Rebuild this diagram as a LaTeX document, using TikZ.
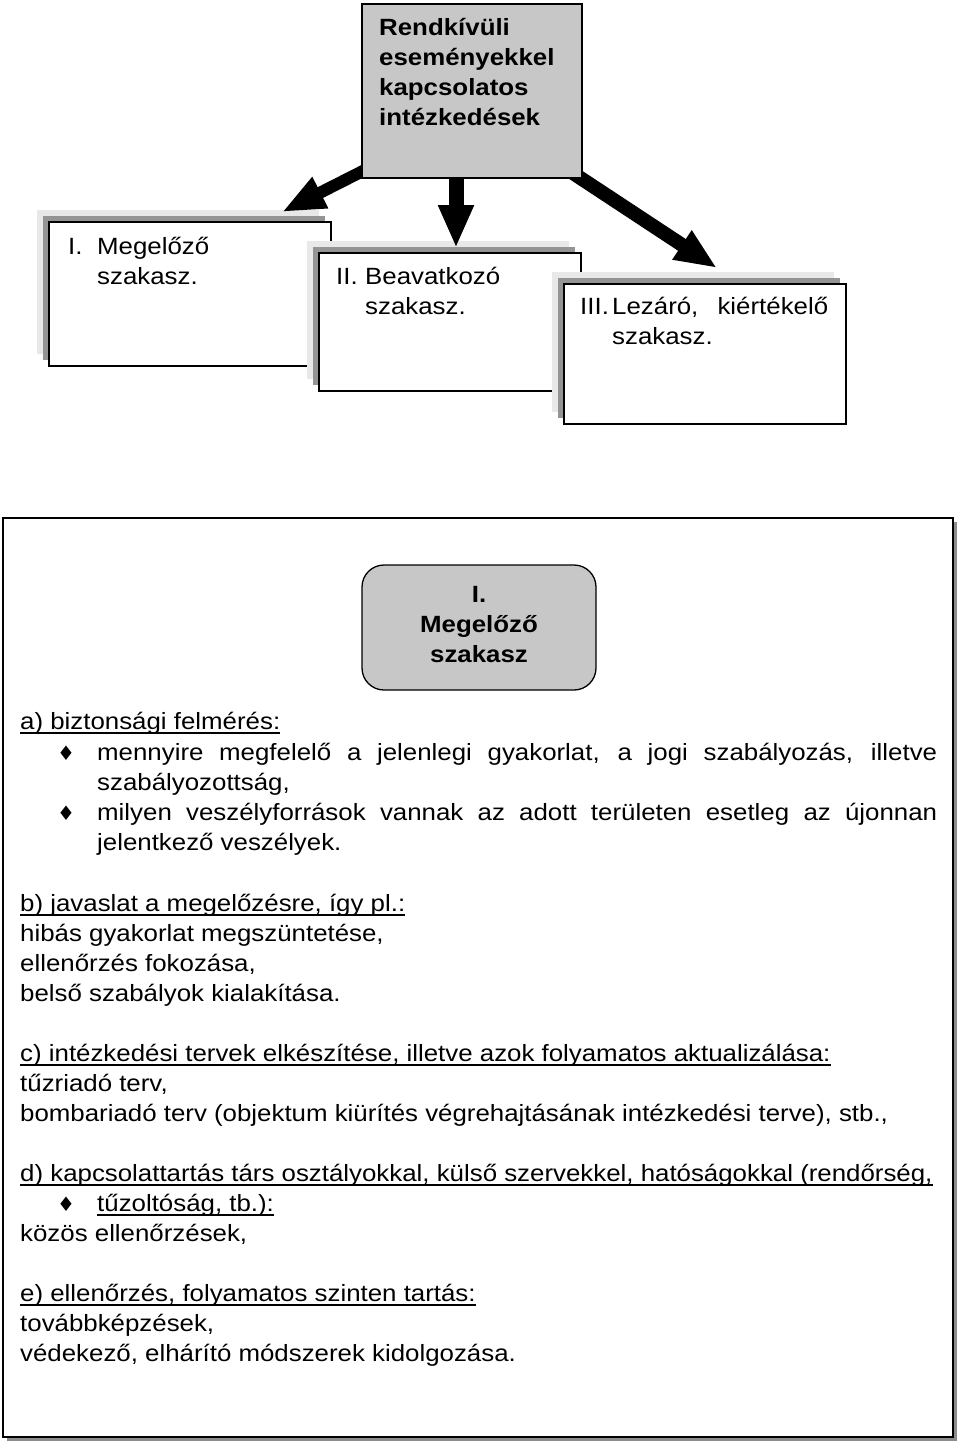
\documentclass[tikz,border=0pt]{standalone}
\usepackage{fontspec}
\setmainfont{Liberation Sans}[FakeStretch=1.1]
\newfontfamily\symfont{DejaVu Sans}
\usetikzlibrary{arrows.meta,shadows,backgrounds,calc}

\colorlet{boxgray}{black!22}
\colorlet{lightshade}{black!9}
\colorlet{darkshade}{black!42}

% underline in the manner of the word processor
\newcommand{\ulin}[1]{\setbox0\hbox{#1}\rlap{\rule[-4.5pt]{\wd0}{1.4pt}}\box0}
\newcommand{\bul}{{\symfont\fontsize{20pt}{20pt}\selectfont ♦}}

\tikzset{
  every node/.append style={font=\fontsize{23.5pt}{30pt}\selectfont},
  txtline/.style={anchor=base west, inner sep=0pt},
  boldline/.style={txtline, font=\fontsize{23.5pt}{30pt}\selectfont\bfseries},
  bulletmark/.style={anchor=base, inner sep=0pt},
  phasebox/.style={draw, line width=1.2pt, fill=white, inner sep=0pt,
    general shadow={fill=lightshade, shadow xshift=-12pt, shadow yshift=12pt},
    general shadow={fill=darkshade, shadow xshift=-6pt, shadow yshift=6pt}},
  bigarrow/.style={line width=14pt, -{Triangle[length=42pt,width=32pt]}}
}

\begin{document}
\begin{tikzpicture}[x=1pt,y=-1pt]
    \useasboundingbox (0,0) rectangle (960,1446);

    % Title box
    \node[draw, line width=1.2pt, fill=boxgray, minimum width=220pt, minimum height=174pt,
          inner sep=0pt] (title) at (472,91) {};
    \foreach \txt [count=\i from 0] in {Rendkívüli, eseményekkel, kapcsolatos, intézkedések}
        \node[boldline] (title\i) at (379,{35+30*\i}) {\txt};

    \begin{scope}[on background layer]
    % Phase boxes
    \node[phasebox, minimum width=282pt, minimum height=144pt] (phaseI) at (190,294) {};
    \node[phasebox, minimum width=262pt, minimum height=138pt] (phaseII) at (450,322) {};
    \node[phasebox, minimum width=282pt, minimum height=140pt] (phaseIII) at (705,354) {};

    % Arrows from the title box
    \coordinate (tipI) at (282,212);
    \coordinate (tipII) at (456,248);
    \coordinate (tipIII) at (717,268);
    \draw[bigarrow, line width=12pt, -{Triangle[length=43pt,width=32pt]}]
        ($(title.south west)+(20,-17)$) -- (tipI);
    \draw[bigarrow, line width=15pt, -{Triangle[length=43pt,width=33pt]}]
        ($(title.south)+(-16,-18)$) -- (tipII);
    \draw[bigarrow] ($(title.south east)+(-24,-15)$) -- (tipIII);
    \end{scope}

    % Phase labels
    \node[txtline] (labI) at (68,254) {I.};
    \node[txtline] (txtIa) at (97,254) {Megelőző};
    \node[txtline] (txtIb) at (97,284) {szakasz.};
    \node[txtline] (labII) at (336,284) {II.};
    \node[txtline] (txtIIa) at (365,284) {Beavatkozó};
    \node[txtline] (txtIIb) at (365,314) {szakasz.};
    \node[txtline] (labIII) at (580,314) {III.};
    \node[txtline] (txtIIIa) at (612,314) {\makebox[216pt][s]{Lezáró, kiértékelő}};
    \node[txtline] (txtIIIb) at (612,344) {szakasz.};

    % Detail frame
    \node[draw, line width=1.5pt, fill=white, minimum width=950pt, minimum height=919pt,
          inner sep=0pt, general shadow={fill=black!45, shadow xshift=4pt, shadow yshift=-4pt}]
          (detail) at (478,977.5) {};
    \node[draw, line width=1.3pt, fill=boxgray, rounded corners=22pt, minimum width=234pt,
          minimum height=125pt, inner sep=0pt] (head) at (479,627.5) {};
    \node[anchor=base, inner sep=0pt, font=\fontsize{23.5pt}{30pt}\selectfont\bfseries]
        (headA) at (479,602) {I.};
    \node[anchor=base, inner sep=0pt, font=\fontsize{23.5pt}{30pt}\selectfont\bfseries]
        (headB) at (479,632) {Megelőző};
    \node[anchor=base, inner sep=0pt, font=\fontsize{23.5pt}{30pt}\selectfont\bfseries]
        (headC) at (479,662) {szakasz};

    % a)
    \node[txtline] (a0) at (20,729) {\ulin{a) biztonsági felmérés:}};
    \node[bulletmark] (b1) at (66,760) {\bul};
    \node[txtline] (a1) at (97,760)
        {\makebox[840pt][s]{mennyire megfelelő a jelenlegi gyakorlat, a jogi szabályozás, illetve}};
    \node[txtline] (a2) at (97,790) {szabályozottság,};
    \node[bulletmark] (b2) at (66,820) {\bul};
    \node[txtline] (a3) at (97,820)
        {\makebox[840pt][s]{milyen veszélyforrások vannak az adott területen esetleg az újonnan}};
    \node[txtline] (a4) at (97,850) {jelentkező veszélyek.};

    % b)
    \node[txtline] (b0) at (20,911) {\ulin{b) javaslat a megelőzésre, így pl.:}};
    \node[txtline] (b1t) at (20,941) {hibás gyakorlat megszüntetése,};
    \node[txtline] (b2t) at (20,971) {ellenőrzés fokozása,};
    \node[txtline] (b3t) at (20,1001) {belső szabályok kialakítása.};

    % c)
    \node[txtline] (c0) at (20,1061) {\ulin{c) intézkedési tervek elkészítése, illetve azok folyamatos aktualizálása:}};
    \node[txtline] (c1) at (20,1091) {tűzriadó terv,};
    \node[txtline] (c2) at (20,1121) {bombariadó terv (objektum kiürítés végrehajtásának intézkedési terve), stb.,};

    % d)
    \node[txtline] (d0) at (20,1181) {\ulin{d) kapcsolattartás társ osztályokkal, külső szervekkel, hatóságokkal (rendőrség,}};
    \node[bulletmark] (b3) at (66,1211) {\bul};
    \node[txtline] (d1) at (97,1211) {\ulin{tűzoltóság, tb.):}};
    \node[txtline] (d2) at (20,1241) {közös ellenőrzések,};

    % e)
    \node[txtline] (e0) at (20,1301) {\ulin{e) ellenőrzés, folyamatos szinten tartás:}};
    \node[txtline] (e1) at (20,1331) {továbbképzések,};
    \node[txtline] (e2) at (20,1361) {védekező, elhárító módszerek kidolgozása.};
\end{tikzpicture}
\end{document}
